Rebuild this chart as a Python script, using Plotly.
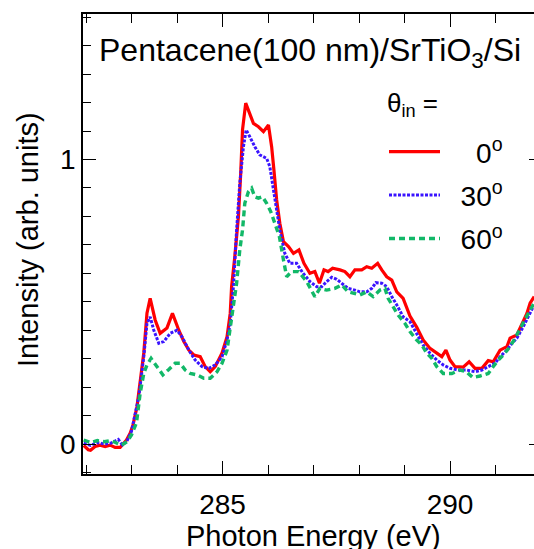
import plotly.graph_objects as go

# ---- data ----
energy_0 = [281.95, 282.05, 282.10, 282.20, 282.31, 282.42, 282.53, 282.64, 282.75, 282.82,
            282.89, 282.97, 283.03, 283.12, 283.19, 283.27, 283.34, 283.41, 283.52, 283.63,
            283.78, 283.90, 284.04, 284.15, 284.26, 284.37, 284.51, 284.62, 284.73, 284.84,
            284.99, 285.10, 285.17, 285.20, 285.27, 285.35, 285.40, 285.44, 285.51, 285.60,
            285.68, 285.79, 285.90, 286.01, 286.08, 286.13, 286.19, 286.26, 286.34, 286.45,
            286.56, 286.68, 286.79, 286.92, 287.03, 287.13, 287.23, 287.32, 287.42, 287.58,
            287.69, 287.80, 287.91, 288.06, 288.17, 288.28, 288.41, 288.50, 288.61, 288.72,
            288.83, 288.97, 289.12, 289.27, 289.41, 289.56, 289.67, 289.82, 289.91, 290.00,
            290.11, 290.29, 290.42, 290.55, 290.70, 290.84, 290.95, 291.10, 291.25, 291.32,
            291.47, 291.58, 291.69, 291.76, 291.85]
intensity_0 = [-0.005, -0.020, -0.022, -0.009, -0.004, -0.009, -0.004, -0.012, -0.012, 0.002,
               0.014, 0.038, 0.065, 0.130, 0.225, 0.320, 0.460, 0.512, 0.436, 0.389,
               0.408, 0.459, 0.400, 0.360, 0.330, 0.313, 0.307, 0.272, 0.254, 0.272,
               0.320, 0.377, 0.460, 0.553, 0.658, 0.799, 0.951, 1.104, 1.198, 1.162,
               1.127, 1.115, 1.098, 1.121, 1.045, 0.963, 0.858, 0.776, 0.711, 0.694,
               0.670, 0.682, 0.635, 0.600, 0.606, 0.565, 0.612, 0.606, 0.618, 0.612,
               0.606, 0.588, 0.612, 0.612, 0.623, 0.618, 0.635, 0.612, 0.588, 0.576,
               0.535, 0.512, 0.450, 0.410, 0.366, 0.336, 0.324, 0.307, 0.330, 0.295,
               0.272, 0.270, 0.289, 0.266, 0.266, 0.293, 0.289, 0.330, 0.342, 0.372,
               0.383, 0.424, 0.459, 0.495, 0.518]

energy_30 = [281.95, 282.10, 282.25, 282.40, 282.55, 282.71, 282.80, 282.90, 283.00, 283.08,
             283.16, 283.27, 283.34, 283.41, 283.49, 283.60, 283.71, 283.85, 284.00, 284.11,
             284.26, 284.40, 284.55, 284.70, 284.84, 284.99, 285.10, 285.17, 285.24, 285.31,
             285.38, 285.46, 285.52, 285.60, 285.71, 285.82, 285.97, 286.04, 286.12, 286.19,
             286.26, 286.37, 286.48, 286.63, 286.77, 286.85, 286.92, 287.07, 287.18, 287.29,
             287.40, 287.51, 287.62, 287.76, 287.91, 288.02, 288.17, 288.28, 288.37, 288.50,
             288.61, 288.72, 288.83, 288.97, 289.12, 289.27, 289.41, 289.56, 289.71, 289.85,
             290.00, 290.18, 290.37, 290.55, 290.70, 290.84, 290.99, 291.10, 291.25, 291.36,
             291.47, 291.61, 291.72, 291.83]
intensity_30 = [0.003, -0.005, 0.005, 0.000, 0.003, 0.016, -0.003, 0.010, 0.045, 0.100,
                0.166, 0.307, 0.424, 0.447, 0.400, 0.354, 0.360, 0.389, 0.400, 0.377,
                0.330, 0.295, 0.272, 0.266, 0.278, 0.307, 0.366, 0.424, 0.553, 0.752,
                0.916, 1.045, 1.104, 1.080, 1.045, 1.016, 1.004, 0.975, 0.893, 0.811,
                0.752, 0.670, 0.635, 0.635, 0.600, 0.585, 0.571, 0.553, 0.553, 0.571,
                0.586, 0.579, 0.565, 0.547, 0.541, 0.535, 0.535, 0.547, 0.567, 0.565,
                0.553, 0.518, 0.489, 0.447, 0.430, 0.389, 0.348, 0.319, 0.295, 0.278,
                0.266, 0.260, 0.260, 0.254, 0.260, 0.272, 0.284, 0.307, 0.330, 0.354,
                0.372, 0.412, 0.447, 0.483]

energy_60 = [281.95, 282.10, 282.25, 282.40, 282.55, 282.65, 282.78, 282.90, 283.00, 283.11,
             283.19, 283.27, 283.34, 283.43, 283.56, 283.69, 283.82, 283.96, 284.07, 284.18,
             284.29, 284.44, 284.59, 284.73, 284.88, 284.99, 285.10, 285.17, 285.24, 285.31,
             285.38, 285.44, 285.49, 285.57, 285.64, 285.71, 285.79, 285.88, 285.97, 286.06,
             286.15, 286.25, 286.34, 286.41, 286.52, 286.67, 286.85, 286.96, 287.03, 287.14,
             287.29, 287.47, 287.62, 287.76, 287.87, 288.02, 288.17, 288.31, 288.46, 288.57,
             288.64, 288.75, 288.86, 289.01, 289.12, 289.27, 289.38, 289.49, 289.60, 289.71,
             289.85, 290.04, 290.22, 290.36, 290.50, 290.66, 290.84, 290.95, 291.06, 291.17,
             291.32, 291.43, 291.54, 291.65, 291.76, 291.85]
intensity_60 = [0.014, 0.005, 0.012, 0.008, 0.012, 0.005, -0.004, 0.008, 0.032, 0.075,
                0.178, 0.248, 0.278, 0.301, 0.272, 0.243, 0.262, 0.284, 0.284, 0.260,
                0.248, 0.243, 0.231, 0.231, 0.254, 0.284, 0.330, 0.412, 0.490, 0.565,
                0.682, 0.752, 0.846, 0.887, 0.899, 0.869, 0.864, 0.869, 0.846, 0.817,
                0.776, 0.729, 0.647, 0.588, 0.606, 0.606, 0.571, 0.541, 0.518, 0.547,
                0.541, 0.547, 0.559, 0.535, 0.530, 0.524, 0.535, 0.518, 0.541, 0.547,
                0.512, 0.483, 0.453, 0.424, 0.395, 0.365, 0.348, 0.319, 0.301, 0.272,
                0.248, 0.248, 0.260, 0.254, 0.234, 0.239, 0.248, 0.272, 0.295, 0.313,
                0.342, 0.372, 0.407, 0.436, 0.471, 0.495]

NB = "\u00a0"
series_labels = [NB * 4 + "0<sup>o</sup>", NB * 2 + "30<sup>o</sup>", NB * 2 + "60<sup>o</sup>"]
x_tick_vals = [285, 290]
y_tick_vals = [0, 1]

FONT = "Liberation Sans, Arial, sans-serif"

fig = go.Figure()
fig.add_trace(go.Scatter(x=energy_0, y=intensity_0, mode="lines", name=series_labels[0],
                         line=dict(color="#ff0000", width=3.2), legendgroup="a"))
fig.add_trace(go.Scatter(x=energy_30, y=intensity_30, mode="lines", name=series_labels[1],
                         line=dict(color="#3a14ff", width=3, dash="3px,1.5px"), legendgroup="b"))
fig.add_trace(go.Scatter(x=energy_60, y=intensity_60, mode="lines", name=series_labels[2],
                         line=dict(color="#12b868", width=3.4, dash="6px,4px"), legendgroup="c"))
# invisible trace on right axis for the right-hand tick stubs
fig.add_trace(go.Scatter(x=[energy_0[0]], y=[intensity_0[0]], yaxis="y2", mode="lines",
                         line=dict(width=0), showlegend=False, hoverinfo="skip"))

W, H = 534, 549
L, R, T, B = 83, 0, 14, 75
PW, PH = W - L - R, H - T - B

fig.update_layout(
    width=W, height=H,
    margin=dict(l=L, r=R, t=T, b=B, pad=0, autoexpand=False),
    paper_bgcolor="white", plot_bgcolor="white",
    font=dict(family=FONT, color="black", size=28),
    showlegend=True,
    legend=dict(
        x=(384 - L) / PW, y=1 - (127 - T) / PH,
        xanchor="left", yanchor="top",
        bgcolor="rgba(0,0,0,0)", borderwidth=0,
        font=dict(family=FONT, size=28, color="black"),
        tracegroupgap=4, itemwidth=51,
    ),
    xaxis=dict(
        range=[281.934, 291.846], automargin=False,
        tickvals=x_tick_vals, ticktext=[str(v) for v in x_tick_vals],
        ticks="inside", ticklen=13, tickwidth=1.3, tickcolor="black",
        minor=dict(dtick=1, tick0=282, ticks="inside", ticklen=9, tickwidth=1.3, tickcolor="black"),
        showline=True, linecolor="black", linewidth=1.6, mirror="ticks",
        showgrid=False, zeroline=False, ticklabelstandoff=5,
        tickfont=dict(family=FONT, size=28, color="black"),
    ),
    yaxis=dict(
        range=[-0.1054, 1.5114], automargin=False,
        tickvals=y_tick_vals, ticktext=[str(v) for v in y_tick_vals],
        ticks="inside", ticklen=13, tickwidth=1.3, tickcolor="black",
        minor=dict(dtick=0.1, tick0=0, ticks="inside", ticklen=8, tickwidth=1.3, tickcolor="black"),
        showline=True, linecolor="black", linewidth=1.6, mirror=False,
        showgrid=False, zeroline=False,
        tickfont=dict(family=FONT, size=28, color="black"),
    ),
    yaxis2=dict(
        range=[-0.1054, 1.5114], overlaying="y", side="right", automargin=False,
        tickvals=y_tick_vals, showticklabels=False,
        ticks="inside", ticklen=5, tickwidth=1.3, tickcolor="black",
        showline=False, showgrid=False, zeroline=False,
    ),
    annotations=[
        dict(text="Pentacene(100 nm)/SrTiO<sub>3</sub>/Si", xref="paper", yref="paper",
             x=(97 - L) / PW, y=1 - (30 - T) / PH,
             xanchor="left", yanchor="top", showarrow=False,
             font=dict(family=FONT, size=32, color="black")),
        dict(text="\u03b8<sub>in</sub> =", xref="paper", yref="paper",
             x=(385 - L) / PW, y=1 - (86 - T) / PH,
             xanchor="left", yanchor="top", showarrow=False,
             font=dict(family=FONT, size=26, color="black")),
        dict(text="Photon Energy (eV)", xref="paper", yref="paper",
             x=(313.8 - L) / PW, y=1 - (518 - T) / PH,
             xanchor="center", yanchor="top", showarrow=False,
             font=dict(family=FONT, size=29, color="black")),
        dict(text="Intensity (arb. units)", xref="paper", yref="paper",
             x=(28 - L) / PW, y=1 - (240 - T) / PH,
             xanchor="center", yanchor="middle", showarrow=False, textangle=-90,
             font=dict(family=FONT, size=29, color="black")),
    ],
)

fig.write_html(
    "out.html",
    config={"displayModeBar": False},
    post_script=("document.documentElement.style.margin='0';document.body.style.margin='0';"
                 "document.documentElement.style.overflow='hidden';document.body.style.overflow='hidden';"),
)
